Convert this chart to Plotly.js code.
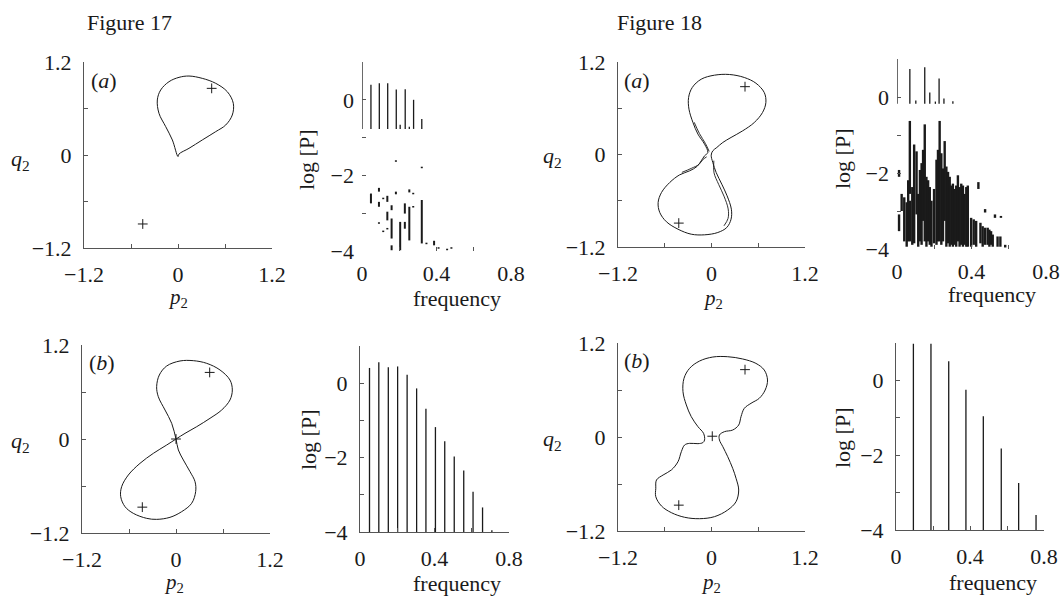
<!DOCTYPE html>
<html>
<head>
<meta charset="utf-8">
<script src="https://cdn.plot.ly/plotly-3.0.1.min.js"></script>
<style>html,body{margin:0;padding:0;background:#fff;}#chart{width:1060px;height:596px;}</style>
</head>
<body>
<div id="chart"></div>
<script>
// ---------- Figure 17 (a) orbit ----------
const orbit17aP = [0, -0.072, -0.157, -0.243, -0.264, -0.221, -0.115, 0.013, 0.140, 0.310, 0.481, 0.629, 0.706, 0.693, 0.609, 0.481, 0.310, 0.140, 0.013];
const orbit17aQ = [-0.02, 0.194, 0.366, 0.538, 0.710, 0.839, 0.946, 1.002, 1.019, 0.989, 0.925, 0.817, 0.667, 0.516, 0.387, 0.301, 0.194, 0.086, 0.013];
const fixed17aP = [0.43, -0.45];
const fixed17aQ = [0.86, -0.89];

// ---------- Figure 17 (b) orbit ----------
const orbit17bP = [0, -0.055, -0.140, -0.226, -0.247, -0.213, -0.119, 0.051, 0.221, 0.392, 0.562, 0.689, 0.719, 0.689, 0.583, 0.434, 0.264, 0.115,
  -0.119, -0.289, -0.460, -0.609, -0.694, -0.706, -0.651, -0.545, -0.374, -0.247, -0.077, 0.072, 0.200, 0.251, 0.243, 0.179, 0.094, 0.030];
const orbit17bQ = [0, 0.200, 0.370, 0.540, 0.668, 0.817, 0.932, 0.996, 1.000, 0.966, 0.881, 0.753, 0.626, 0.498, 0.370, 0.264, 0.157, 0.072,
  -0.077, -0.183, -0.311, -0.460, -0.609, -0.736, -0.864, -0.949, -1.013, -1.026, -1.000, -0.928, -0.821, -0.672, -0.545, -0.417, -0.268, -0.140];
const fixed17bP = [0.43, -0.43, 0];
const fixed17bQ = [0.85, -0.87, 0];

// ---------- Figure 18 (a) orbit ----------
const orbit18aP = [-0.047, -0.089, -0.174, -0.238, -0.289, -0.294, -0.247, -0.132, 0.038, 0.230, 0.421, 0.570, 0.677, 0.698, 0.655, 0.549, 0.400, 0.251, 0.145, 0.068, 0.017, -0.004,
  0.017, 0.060, 0.132, 0.200, 0.255, 0.251, 0.196, 0.081, -0.089, -0.260, -0.430, -0.578, -0.664, -0.685, -0.642, -0.536, -0.409, -0.281, -0.187, -0.132, -0.089];
const orbit18aQ = [0.026, 0.134, 0.264, 0.415, 0.588, 0.739, 0.869, 0.977, 1.029, 1.038, 0.999, 0.925, 0.804, 0.675, 0.545, 0.415, 0.307, 0.221, 0.156, 0.091, 0.048, -0.009,
  -0.104, -0.234, -0.385, -0.536, -0.710, -0.839, -0.947, -1.012, -1.042, -1.034, -0.969, -0.873, -0.752, -0.623, -0.493, -0.363, -0.264, -0.212, -0.156, -0.082, -0.017];
// second (nearby) strands of the chaotic orbit
const strand18aP = [-0.222, -0.155, -0.078, -0.030, null, 0.030, 0.032, 0.092, 0.160, 0.214, 0.212, 0.160, null, -0.062, -0.115, -0.160, -0.255, -0.380];
const strand18aQ = [0.418, 0.272, 0.143, 0.040, null, -0.080, -0.236, -0.388, -0.540, -0.706, -0.830, -0.925, null, -0.030, -0.070, -0.128, -0.178, -0.232];
const fixed18aP = [0.43, -0.42];
const fixed18aQ = [0.88, -0.89];

// ---------- Figure 18 (b) orbit ----------
const orbit18bP = [-0.089, -0.102, -0.174, -0.260, -0.323, -0.366, -0.353, -0.281, -0.153, 0.017, 0.208, 0.400, 0.570, 0.677, 0.719, 0.689, 0.613, 0.507, 0.421, 0.379, 0.349, 0.272, 0.166, 0.102, 0.102, 0.145, 0.208, 0.272, 0.315,
  0.349, 0.315, 0.208, 0.038, -0.153, -0.345, -0.515, -0.642, -0.715, -0.715, -0.706, -0.621, -0.515, -0.430, -0.387, -0.345, -0.281, -0.174, -0.111];
const orbit18bQ = [-0.038, 0.047, 0.132, 0.260, 0.409, 0.579, 0.749, 0.877, 0.970, 1.021, 1.025, 0.996, 0.940, 0.855, 0.728, 0.600, 0.494, 0.430, 0.366, 0.260, 0.153, 0.089, 0.068, 0.026, -0.038, -0.123, -0.251, -0.400, -0.527,
  -0.677, -0.826, -0.932, -1.017, -1.043, -1.025, -0.966, -0.881, -0.762, -0.655, -0.549, -0.485, -0.421, -0.315, -0.187, -0.102, -0.081, -0.085, -0.072];
const fixed18bP = [0.43, 0.01, -0.42];
const fixed18bQ = [0.86, 0.01, -0.87];

// ---------- Spectra ----------
// Fig 17 (a): strong peaks (frequency, upper log P, lower log P)
const spec17aPeakFreq = [0, 0.048, 0.093, 0.138, 0.184, 0.205, 0.232, 0.254, 0.277, 0.321];
const spec17aPeakTop = [1.0, 0.40, 0.44, 0.44, 0.27, -0.66, 0.28, -0.71, 0.0, -0.51];
const spec17aPeakBottom = [-0.77, -0.77, -0.77, -0.77, -0.77, -0.77, -0.77, -0.77, -0.77, -0.77];
// Fig 17 (a): weak scattered components
const spec17aWeakFreq = [0.182, 0.321, 0.048, 0.091, 0.091, 0.114, 0.136, 0.159, 0.182, 0.254, 0.275, 0.136, 0.159, 0.091, 0.114, 0.136,
  0.230, 0.230, 0.254, 0.275, 0.205, 0.321, 0.159, 0.346, 0.387, 0.411, 0.457, 0.480];
const spec17aWeakTop = [-1.60, -1.77, -2.48, -2.33, -2.70, -2.59, -2.54, -2.79, -2.43, -2.37, -2.46, -2.96, -3.14, -3.24, -3.46, -3.39,
  -2.74, -3.23, -2.83, -2.81, -3.23, -2.65, -3.85, -3.78, -3.73, -3.90, -3.94, -3.90];
const spec17aWeakBottom = [-1.64, -1.81, -2.74, -2.43, -2.83, -2.63, -2.70, -2.92, -2.50, -2.45, -2.50, -3.19, -3.67, -3.28, -3.50, -3.43,
  -3.01, -3.41, -3.72, -2.85, -3.98, -3.80, -3.98, -3.82, -3.85, -3.94, -3.98, -3.94];

// Fig 17 (b): peaks rising from the base
const spec17bFreq = [0.051, 0.101, 0.152, 0.202, 0.253, 0.304, 0.354, 0.405, 0.455, 0.506, 0.557, 0.607, 0.658, 0.708];
const spec17bPeak = [0.41, 0.56, 0.43, 0.45, 0.23, -0.14, -0.69, -1.18, -1.56, -1.97, -2.35, -2.92, -3.34, -3.95];

// Fig 18 (a): strong peaks
const spec18aPeakFreq = [0, 0.069, 0.101, 0.149, 0.176, 0.206, 0.226, 0.252, 0.300];
const spec18aPeakTop = [1.03, 0.74, -0.09, 0.78, 0.12, -0.12, 0.49, -0.04, -0.11];
const spec18aPeakBottom = [-0.18, -0.18, -0.18, -0.18, -0.18, -0.18, -0.18, -0.18, -0.18];
// Fig 18 (a): broad-band components
const spec18aBandFreq = [0.011, 0.011, 0.025, 0.039, 0.052, 0.060, 0.069, 0.069, 0.082, 0.092, 0.105, 0.114, 0.123, 0.132, 0.140, 0.149, 0.158, 0.167, 0.176, 0.185,
  0.199, 0.212, 0.220, 0.229, 0.238, 0.247, 0.256, 0.265, 0.274, 0.283, 0.292, 0.300, 0.309, 0.318, 0.327, 0.336, 0.345, 0.354, 0.363, 0.372, 0.380,
  0.398, 0.412, 0.425, 0.437, 0.448, 0.460, 0.473, 0.473, 0.487, 0.496, 0.505, 0.514, 0.526, 0.540, 0.555, 0.558, 0.581];
const spec18aBandTop = [-1.92, -3.09, -2.55, -2.64, -2.77, -2.19, -0.63, -2.73, -2.37, -1.25, -1.43, -2.55, -1.92, -1.74, -1.39, -0.72, -2.10, -2.19, -2.37, -2.73,
  -2.42, -1.65, -1.39, -0.63, -1.48, -1.88, -1.16, -1.83, -1.97, -2.10, -2.33, -2.28, -2.42, -2.33, -2.06, -2.37, -2.28, -2.33, -2.55, -2.37, -2.33,
  -3.18, -3.22, -3.26, -2.24, -3.31, -3.40, -2.95, -3.44, -3.44, -3.49, -3.53, -3.62, -3.09, -3.67, -3.67, -3.13, -3.89];
const spec18aBandBottom = [-2.10, -3.53, -3.00, -3.80, -3.94, -3.80, -2.55, -3.80, -3.89, -3.85, -3.09, -3.94, -3.80, -3.89, -3.26, -3.80, -3.94, -3.80, -3.89, -3.94,
  -3.85, -3.89, -3.80, -3.80, -3.89, -3.80, -3.26, -3.94, -3.85, -3.94, -3.89, -3.94, -3.89, -3.94, -3.80, -3.94, -3.89, -3.94, -3.89, -3.94, -3.94,
  -3.94, -3.89, -3.94, -2.42, -3.85, -3.94, -3.04, -3.89, -3.89, -3.94, -3.89, -3.94, -3.18, -3.94, -3.94, -3.18, -3.96];

// Fig 18 (b): peaks rising from the base
const spec18bFreq = [0.094, 0.189, 0.285, 0.378, 0.472, 0.569, 0.663, 0.757];
const spec18bPeak = [0.98, 0.98, 0.51, -0.25, -0.96, -1.82, -2.74, -3.60];

const orbitTickVals = [-1.2, 0, 1.2];
const orbitTickText = ['\u22121.2', '0', '1.2'];
const freqTickVals = [0, 0.4, 0.8];
const freqTickText = ['0', '0.4', '0.8'];
const logTickVals = [-4, -2, 0];
const logTickText = ['\u22124', '\u22122', '0'];

// ---------- builders ----------
const W = 1060, H = 596;
const FONT = '"Liberation Serif", "Times New Roman", serif';
const INK = '#1a1a1a';

function segs(freq, top, bottom) {
  const x = [], y = [];
  for (let i = 0; i < freq.length; i++) {
    x.push(freq[i], freq[i], null);
    y.push(bottom[i], top[i], null);
  }
  return {x, y};
}
function closed(a) { return a.concat([a[0]]); }
function dom(p0, p1, total, flip) {
  return flip ? [1 - p1 / total, 1 - p0 / total] : [p0 / total, p1 / total];
}

const traces = [];
function orbit(P, Q, k) {
  traces.push({type: 'scatter', mode: 'lines', x: closed(P), y: closed(Q), xaxis: 'x' + k, yaxis: 'y' + k,
    line: {color: INK, width: 1, shape: 'spline', smoothing: 1}, hoverinfo: 'skip'});
}
function strand(P, Q, k) {
  traces.push({type: 'scatter', mode: 'lines', x: P, y: Q, xaxis: 'x' + k, yaxis: 'y' + k, connectgaps: false,
    line: {color: INK, width: 0.9, shape: 'spline', smoothing: 1}, hoverinfo: 'skip'});
}
function fixedPts(P, Q, k) {
  traces.push({type: 'scatter', mode: 'markers', x: P, y: Q, xaxis: 'x' + k, yaxis: 'y' + k,
    marker: {symbol: 'cross-thin', size: 7, line: {color: INK, width: 1}}, hoverinfo: 'skip'});
}
function spectrum(freq, top, bottom, k, w) {
  const s = segs(freq, top, bottom);
  traces.push({type: 'scatter', mode: 'lines', x: s.x, y: s.y, xaxis: 'x' + k, yaxis: 'y' + k,
    line: {color: INK, width: w}, hoverinfo: 'skip'});
}

orbit(orbit17aP, orbit17aQ, ''); fixedPts(fixed17aP, fixed17aQ, '');
spectrum(spec17aPeakFreq, spec17aPeakTop, spec17aPeakBottom, '2', 1.3);
spectrum(spec17aWeakFreq, spec17aWeakTop, spec17aWeakBottom, '2', 2);
orbit(orbit17bP, orbit17bQ, '3'); fixedPts(fixed17bP, fixed17bQ, '3');
spectrum(spec17bFreq, spec17bPeak, spec17bFreq.map(() => -4), '4', 1.3);
orbit(orbit18aP, orbit18aQ, '5'); strand(strand18aP, strand18aQ, '5'); fixedPts(fixed18aP, fixed18aQ, '5');
spectrum(spec18aPeakFreq, spec18aPeakTop, spec18aPeakBottom, '6', 1.3);
spectrum(spec18aBandFreq, spec18aBandTop, spec18aBandBottom, '6', 2.4);
orbit(orbit18bP, orbit18bQ, '7'); fixedPts(fixed18bP, fixed18bQ, '7');
spectrum(spec18bFreq, spec18bPeak, spec18bFreq.map(() => -4), '8', 1.3);

function axis(d, range, vals, text, showline, anchor, minorStep) {
  return {domain: d, range: range, anchor: anchor, showgrid: false, zeroline: false,
    showline: showline, linecolor: '#555', linewidth: 1, ticks: 'inside', ticklen: 4, tickcolor: '#555',
    tickmode: 'array', tickvals: vals, ticktext: text, ticklabelstandoff: 7, fixedrange: true,
    minor: {tick0: range[0], dtick: minorStep, ticks: 'inside', ticklen: 4, tickcolor: '#555', showgrid: false},
    tickfont: {family: FONT, size: 22, color: INK}};
}
function xa(px0, px1, range, vals, text, showline, anchor, m) { return axis(dom(px0, px1, W, false), range, vals, text, showline, anchor, m); }
function ya(py0, py1, range, vals, text, showline, anchor, m) { return axis(dom(py0, py1, H, true), range, vals, text, showline, anchor, m); }
const OR = [-1.2, 1.2], FR = [0, 0.8], LR = [-4, 1];

const layout = {
  width: W, height: H, margin: {l: 0, r: 0, t: 0, b: 0}, paper_bgcolor: '#fff', plot_bgcolor: 'rgba(0,0,0,0)',
  showlegend: false, font: {family: FONT, size: 22, color: INK},
  xaxis: xa(84, 272, OR, orbitTickVals, orbitTickText, true, 'y', 0.6),
  yaxis: ya(62, 248, OR, orbitTickVals, orbitTickText, true, 'x', 0.6),
  xaxis2: xa(362, 511, FR, freqTickVals, freqTickText, false, 'y2', 0.2),
  yaxis2: ya(62, 251, LR, logTickVals, logTickText, false, 'x2', 1),
  xaxis3: xa(82, 270, OR, orbitTickVals, orbitTickText, true, 'y3', 0.6),
  yaxis3: ya(345, 533, OR, orbitTickVals, orbitTickText, true, 'x3', 0.6),
  xaxis4: xa(360, 509, FR, freqTickVals, freqTickText, true, 'y4', 0.2),
  yaxis4: ya(346, 532, LR, logTickVals, logTickText, true, 'x4', 1),
  xaxis5: xa(618, 805, OR, orbitTickVals, orbitTickText, true, 'y5', 0.6),
  yaxis5: ya(62, 247, OR, orbitTickVals, orbitTickText, true, 'x5', 0.6),
  xaxis6: xa(897, 1046, FR, freqTickVals, freqTickText, false, 'y6', 0.2),
  yaxis6: ya(59, 249, LR, logTickVals, logTickText, false, 'x6', 1),
  xaxis7: xa(618, 805, OR, orbitTickVals, orbitTickText, true, 'y7', 0.6),
  yaxis7: ya(343, 531, OR, orbitTickVals, orbitTickText, true, 'x7', 0.6),
  xaxis8: xa(896, 1044, FR, freqTickVals, freqTickText, true, 'y8', 0.2),
  yaxis8: ya(343, 530, LR, logTickVals, logTickText, true, 'x8', 1),
  annotations: []
};

function note(text, px, py, opts) {
  layout.annotations.push(Object.assign({text: text, xref: 'paper', yref: 'paper', x: px / W, y: 1 - py / H,
    xanchor: 'center', yanchor: 'middle', showarrow: false, font: {family: FONT, size: 22, color: INK}}, opts || {}));
}
note('Figure 17', 85, 22, {xanchor: 'left'});
note('Figure 18', 615, 22, {xanchor: 'left'});
note('(<i>a</i>)', 89, 80, {xanchor: 'left'});
note('(<i>b</i>)', 87, 362, {xanchor: 'left'});
note('(<i>a</i>)', 622, 80, {xanchor: 'left'});
note('(<i>b</i>)', 622, 360, {xanchor: 'left'});
const qLab = '<i>q</i><sub>2</sub>', pLab = '<i>p</i><sub>2</sub>';
const pFont = {family: FONT, size: 21, color: INK};
note(qLab, 20, 160); note(qLab, 20, 442); note(qLab, 552, 157); note(qLab, 552, 440);
note(pLab, 178, 294, {yanchor: 'top', y: 1 - 283 / H, font: pFont});
note(pLab, 174, 572, {yanchor: 'top', y: 1 - 568 / H, font: pFont});
note(pLab, 713, 294, {yanchor: 'top', y: 1 - 284 / H, font: pFont});
note(pLab, 711, 584, {yanchor: 'top', y: 1 - 568 / H, font: pFont});
note('frequency', 457, 298); note('frequency', 457, 583); note('frequency', 992, 295); note('frequency', 993, 582);
note('log [P]', 306, 160, {textangle: -90}); note('log [P]', 308, 440, {textangle: -90});
note('log [P]', 842, 159, {textangle: -90}); note('log [P]', 842, 438, {textangle: -90});

Plotly.newPlot('chart', traces, layout, {staticPlot: true, displayModeBar: false});
</script>
</body>
</html>
